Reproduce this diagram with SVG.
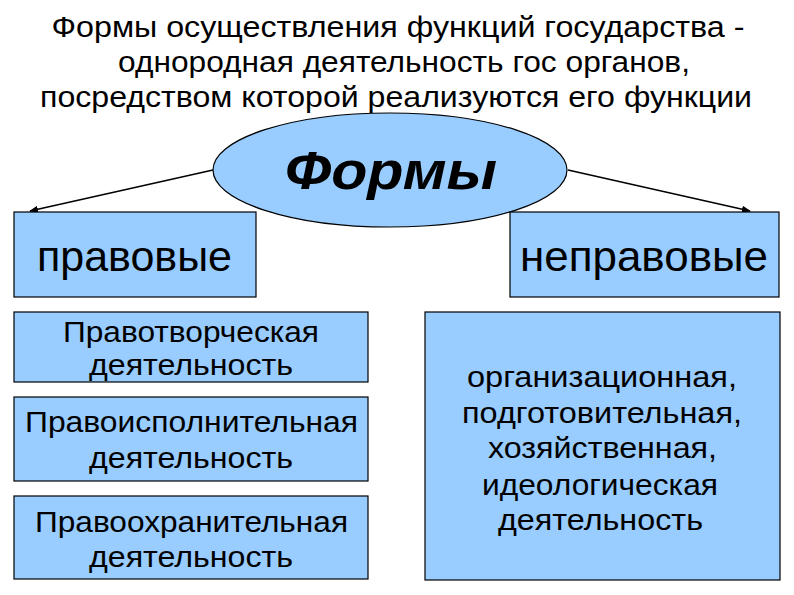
<svg xmlns="http://www.w3.org/2000/svg" width="794" height="595" viewBox="0 0 794 595">
<defs>
<style>
.box{fill:#99CCFF;stroke:#000;stroke-width:1.2}
.t{font-family:"Liberation Sans",Arial,sans-serif;fill:#000;text-anchor:middle}
.ti{font-size:30px}
.s{font-size:30px}
.conn{stroke:#000;stroke-width:1.5;fill:none;marker-end:url(#ah)}
</style>
<marker id="ah" viewBox="0 0 10 10" refX="9" refY="5" markerWidth="6" markerHeight="6" orient="auto"><path d="M0,1 L10,5 L0,9 z" fill="#000"/></marker>
</defs>
<rect width="794" height="595" fill="#fff"/>
<g id="title">
<text class="t ti" x="398" y="37" textLength="693" lengthAdjust="spacingAndGlyphs">Формы осуществления функций государства -</text>
<text class="t ti" x="404" y="72" textLength="572" lengthAdjust="spacingAndGlyphs">однородная деятельность гос органов,</text>
<text class="t ti" x="396" y="107" textLength="712" lengthAdjust="spacingAndGlyphs">посредством которой реализуются его функции</text>
</g>
<g id="connectors">
<line class="conn" x1="213" y1="170" x2="30" y2="211"/>
<line class="conn" x1="568" y1="170" x2="750" y2="211"/>
</g>
<g id="formy">
<ellipse class="box" cx="390" cy="170" rx="177" ry="57"/>
<text class="t" x="391" y="189" font-size="54" font-weight="bold" font-style="italic" textLength="212" lengthAdjust="spacingAndGlyphs">Формы</text>
</g>
<g id="pravovye">
<rect class="box" x="14" y="212" width="242" height="85"/>
<text class="t" x="134.5" y="271" font-size="43" textLength="195" lengthAdjust="spacingAndGlyphs">правовые</text>
</g>
<g id="nepravovye">
<rect class="box" x="510" y="212" width="269" height="85"/>
<text class="t" x="644" y="271" font-size="43" textLength="248" lengthAdjust="spacingAndGlyphs">неправовые</text>
</g>
<g id="pravotvor">
<rect class="box" x="14" y="312" width="354" height="70"/>
<text class="t s" x="191" y="342" textLength="256" lengthAdjust="spacingAndGlyphs">Правотворческая</text>
<text class="t s" x="191" y="375" textLength="204" lengthAdjust="spacingAndGlyphs">деятельность</text>
</g>
<g id="pravoispoln">
<rect class="box" x="14" y="397" width="354" height="84"/>
<text class="t s" x="191.5" y="432" textLength="333" lengthAdjust="spacingAndGlyphs">Правоисполнительная</text>
<text class="t s" x="191" y="468" textLength="204" lengthAdjust="spacingAndGlyphs">деятельность</text>
</g>
<g id="pravookhran">
<rect class="box" x="14" y="496" width="354" height="83"/>
<text class="t s" x="191.5" y="532" textLength="313" lengthAdjust="spacingAndGlyphs">Правоохранительная</text>
<text class="t s" x="191" y="567" textLength="204" lengthAdjust="spacingAndGlyphs">деятельность</text>
</g>
<g id="nepravo_list">
<rect class="box" x="425" y="312" width="355" height="268"/>
<text class="t s" x="602" y="387" textLength="270" lengthAdjust="spacingAndGlyphs">организационная,</text>
<text class="t s" x="602" y="423" textLength="280" lengthAdjust="spacingAndGlyphs">подготовительная,</text>
<text class="t s" x="602.5" y="458" textLength="229" lengthAdjust="spacingAndGlyphs">хозяйственная,</text>
<text class="t s" x="600" y="495" textLength="236" lengthAdjust="spacingAndGlyphs">идеологическая</text>
<text class="t s" x="600.5" y="530" textLength="205" lengthAdjust="spacingAndGlyphs">деятельность</text>
</g>
</svg>
